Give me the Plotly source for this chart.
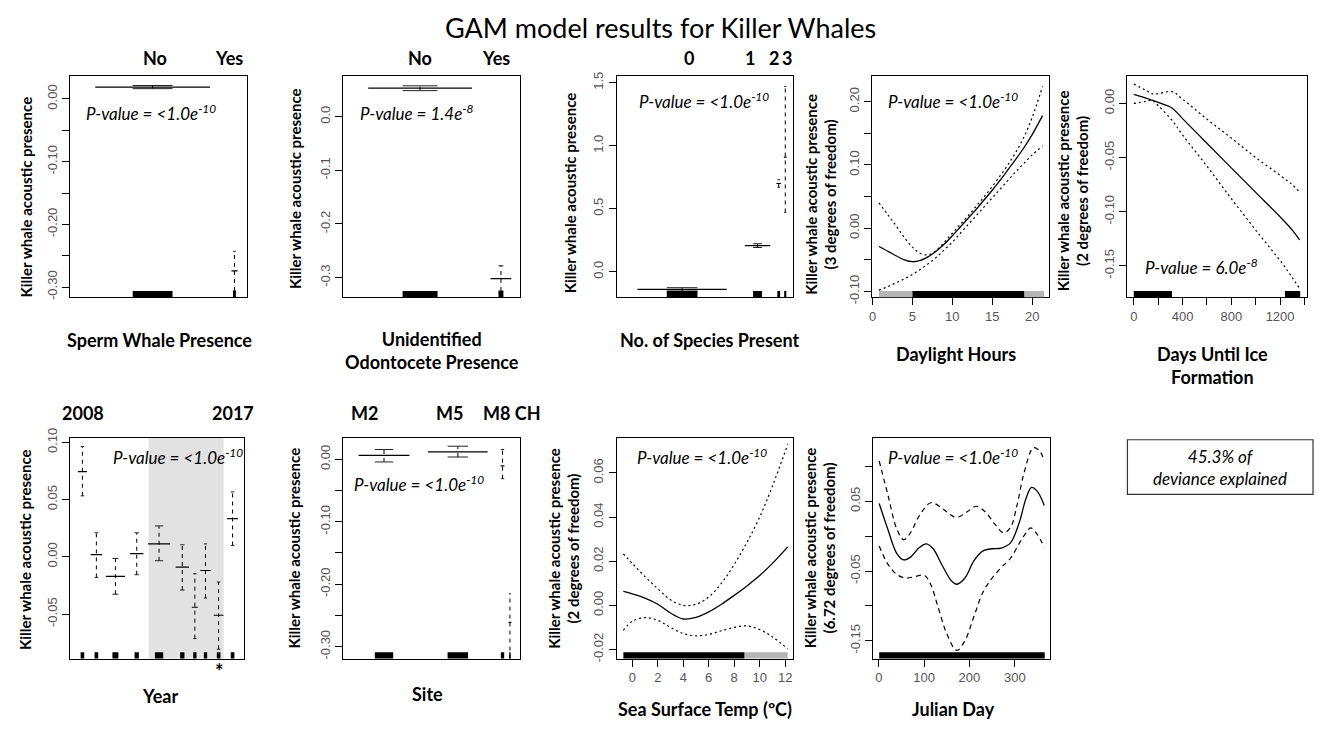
import plotly.graph_objects as go

W, H = 1319, 729

# ---------------- data ----------------
title_text = "GAM model results for Killer Whales"

# Panel 1: Sperm whale presence (factor term)
sperm_levels = ["No", "Yes"]
sperm_fit = [0.019, -0.274]
sperm_hi = [0.0215, -0.243]
sperm_lo = [0.0165, -0.306]
sperm_pos = [0.466, 0.927]
sperm_share = [0.323, 0.017]
sperm_rug = [0.112, 0.008]

# Panel 2: Unidentified odontocete presence
unid_levels = ["No", "Yes"]
unid_fit = [0.053, -0.302]
unid_hi = [0.0575, -0.278]
unid_lo = [0.0485, -0.325]
unid_pos = [0.435, 0.893]
unid_share = [0.294, 0.059]
unid_rug = [0.099, 0.014]

# Panel 3: Number of species present
spec_levels = ["0", "1", "2", "3"]
spec_fit = [-0.14, 0.207, 0.70, 0.91]
spec_hi = [-0.127, 0.222, 0.73, 1.47]
spec_lo = [-0.153, 0.192, 0.67, 0.47]
spec_pos = [0.371, 0.798, 0.918, 0.955]
spec_share = [0.253, 0.072, 0.013, 0.008]
spec_rug = [0.087, 0.025, 0.008, 0.006]

# Panel 4: Daylight hours smooth (3 df)
day_x = [0.8, 2, 3, 4, 5, 6, 7, 8, 9, 10, 11, 12, 13, 14, 15, 16, 17, 18, 19, 20, 21.3]
day_fit = [-0.029, -0.037, -0.044, -0.050, -0.053, -0.051, -0.045, -0.036, -0.025, -0.012, 0.002,
           0.016, 0.030, 0.045, 0.060, 0.076, 0.093, 0.110, 0.128, 0.148, 0.178]
day_hi = [0.040, 0.020, 0.003, -0.015, -0.030, -0.040, -0.042, -0.035, -0.022, -0.008, 0.006,
          0.020, 0.035, 0.050, 0.066, 0.083, 0.101, 0.121, 0.145, 0.175, 0.224]
day_lo = [-0.098, -0.092, -0.086, -0.080, -0.073, -0.065, -0.056, -0.046, -0.034, -0.022, -0.008,
          0.006, 0.020, 0.034, 0.048, 0.062, 0.076, 0.090, 0.103, 0.116, 0.130]
day_rug_dense = [(5.0, 19.0)]
day_rug_sparse = [(0.8, 5.0), (19.0, 21.5)]

# Panel 5: Days until ice formation (2 df)
ice_x = [0, 100, 150, 200, 313, 400, 600, 800, 1000, 1219, 1300, 1360]
ice_fit = [0.0084, 0.005, 0.003, 0.001, -0.0042, -0.014, -0.0368, -0.0595, -0.0822, -0.107, -0.117, -0.126]
ice_hi = [0.018, 0.012, 0.009, 0.009, 0.011, 0.004, -0.0145, -0.032, -0.050, -0.068, -0.075, -0.082]
ice_lo = [0.000, 0.002, 0.003, -0.002, -0.0155, -0.029, -0.058, -0.088, -0.117, -0.148, -0.161, -0.171]
ice_rug_dense = [(0, 313), (1240, 1365)]

# Panel 6: Year (factor)
year_levels = ["2008", "2009", "2010", "2011", "2012", "2013", "2014", "2015", "2016", "2017"]
year_fit = [0.0745, 0.002, -0.017, 0.0028, 0.0113, -0.009, -0.044, -0.0119, -0.051, 0.0334]
year_hi = [0.0963, 0.021, -0.0014, 0.021, 0.027, 0.0105, -0.0147, 0.0113, -0.022, 0.0567]
year_lo = [0.0533, -0.018, -0.0326, -0.0156, -0.0034, -0.029, -0.0714, -0.036, -0.0807, 0.0099]
year_pos = [0.072, 0.152, 0.261, 0.383, 0.511, 0.644, 0.716, 0.777, 0.852, 0.932]
year_share = [0.026, 0.033, 0.055, 0.038, 0.063, 0.038, 0.017, 0.030, 0.028, 0.031]
year_rug = [0.0104, 0.0104, 0.017, 0.0123, 0.0237, 0.0123, 0.0095, 0.0095, 0.0104, 0.0104]
year_shade = (0.451, 0.881)

# Panel 7: Site (factor)
site_levels = ["M2", "M5", "M8", "CH"]
site_fit = [0.0063, 0.012, -0.0105, -0.261]
site_hi = [0.0157, 0.021, 0.0157, -0.215]
site_lo = [-0.0042, 0.0037, -0.031, -0.319]
site_pos = [0.231, 0.649, 0.902, 0.944]
site_share = [0.144, 0.169, 0.011, 0.008]
site_rug = [0.052, 0.058, 0.0094, 0.004]

# Panel 8: Sea surface temperature (2 df)
sst_x = [-0.7, 0, 1, 2, 3, 4, 5, 6, 7, 8, 9, 10, 11, 12.2]
sst_fit = [0.0063, 0.0052, 0.0033, 0.0005, -0.0035, -0.0062, -0.0055, -0.0030, 0.0005, 0.0045,
           0.0088, 0.0135, 0.0190, 0.0265]
sst_hi = [0.0233, 0.019, 0.013, 0.0075, 0.0025, 0.0, 0.0005, 0.0038, 0.0100, 0.0185, 0.0285,
          0.0400, 0.0540, 0.0729]
sst_lo = [-0.0113, -0.0072, -0.0056, -0.0068, -0.0100, -0.0128, -0.0138, -0.0132, -0.0115,
          -0.0100, -0.0093, -0.0110, -0.0143, -0.0197]
sst_rug_dense = [(-0.7, 8.8)]
sst_rug_sparse = [(8.8, 12.2)]

# Panel 9: Julian day (6.72 df)
jul_x = [1, 20, 40, 55, 70, 90, 105, 120, 140, 160, 172, 190, 210, 230, 250, 270, 290, 310, 325, 337, 350, 365]
jul_fit = [0.047, 0.010, -0.025, -0.034, -0.030, -0.016, -0.011, -0.018, -0.042, -0.064, -0.069, -0.060,
           -0.035, -0.021, -0.018, -0.017, -0.010, 0.020, 0.055, 0.070, 0.064, 0.044]
jul_hi_x = [1, 20, 40, 55, 70, 90, 115, 140, 160, 172, 195, 215, 235, 255, 275, 290, 305, 320, 341, 355, 365]
jul_hi = [0.108, 0.060, 0.010, -0.005, 0.005, 0.030, 0.048, 0.040, 0.030, 0.027, 0.035, 0.043, 0.035,
          0.018, 0.005, 0.012, 0.045, 0.090, 0.127, 0.122, 0.108]
jul_lo_x = [1, 20, 40, 60, 80, 100, 115, 130, 150, 172, 190, 210, 230, 250, 270, 290, 310, 325, 335, 350, 365]
jul_lo = [-0.014, -0.040, -0.055, -0.060, -0.058, -0.056, -0.070, -0.100, -0.140, -0.164, -0.150, -0.115,
          -0.080, -0.060, -0.045, -0.032, -0.010, 0.005, 0.012, 0.002, -0.016]
jul_rug_dense = [(1, 366)]

deviance_text = "45.3% of<br>deviance explained"

# ---------------- layout helpers ----------------
TXT = "Lato, Open Sans, sans-serif"
TICKF = dict(family="Liberation Sans, Arial, sans-serif", size=13, color="#555")

boxes = {1: (67, 245, 68, 294), 2: (341, 518, 68, 294), 3: (615, 792, 68, 294),
         4: (871, 1048, 68, 294), 5: (1127, 1307, 68, 294),
         6: (67, 242, 438, 664), 7: (341, 518, 438, 664), 8: (615, 792, 438, 664),
         9: (872, 1049, 438, 664)}


def px(x):
    return x / W


def py(y):
    return 1 - y / H


def xr(i):
    return "x" if i == 1 else f"x{i}"


def yr(i):
    return "y" if i == 1 else f"y{i}"


fig = go.Figure()
shapes = []
annotations = []


def factor_panel(i, pos, share, rugw, fit, lo, hi):
    fx, fy, cx, cy, vx, vy = [], [], [], [], [], []
    for p, s, f in zip(pos, share, fit):
        fx += [p - s, p + s, None]
        fy += [f, f, None]
    for p, r, l, h in zip(pos, rugw, lo, hi):
        cx += [p - r, p + r, None, p - r, p + r, None]
        cy += [l, l, None, h, h, None]
        vx += [p, p, None]
        vy += [l, h, None]
    fig.add_trace(go.Scatter(x=vx, y=vy, mode="lines", xaxis=xr(i), yaxis=yr(i),
                             line=dict(color="black", width=1, dash="4px,4px"), hoverinfo="skip"))
    fig.add_trace(go.Scatter(x=cx, y=cy, mode="lines", xaxis=xr(i), yaxis=yr(i),
                             line=dict(color="#222", width=1), hoverinfo="skip"))
    fig.add_trace(go.Scatter(x=fx, y=fy, mode="lines", xaxis=xr(i), yaxis=yr(i),
                             line=dict(color="black", width=1.2), hoverinfo="skip"))
    for p, r in zip(pos, rugw):
        shapes.append(dict(type="rect", xref=xr(i), yref=yr(i) + " domain", x0=p - r, x1=p + r,
                           y0=0, y1=0.028, fillcolor="black", line=dict(width=0)))


def curve_panel(i, x, fit, xhi, hi, xlo, lo, dash, dense, sparse=()):
    fig.add_trace(go.Scatter(x=xhi, y=hi, mode="lines", xaxis=xr(i), yaxis=yr(i),
                             line=dict(color="black", width=1.2, dash=dash, shape="spline"),
                             hoverinfo="skip"))
    fig.add_trace(go.Scatter(x=xlo, y=lo, mode="lines", xaxis=xr(i), yaxis=yr(i),
                             line=dict(color="black", width=1.2, dash=dash, shape="spline"),
                             hoverinfo="skip"))
    fig.add_trace(go.Scatter(x=x, y=fit, mode="lines", xaxis=xr(i), yaxis=yr(i),
                             line=dict(color="black", width=1.3, shape="spline"), hoverinfo="skip"))
    for a, b in sparse:
        shapes.append(dict(type="rect", xref=xr(i), yref=yr(i) + " domain", x0=a, x1=b,
                           y0=0, y1=0.028, fillcolor="#b5b5b5", line=dict(width=0)))
    for a, b in dense:
        shapes.append(dict(type="rect", xref=xr(i), yref=yr(i) + " domain", x0=a, x1=b,
                           y0=0, y1=0.028, fillcolor="black", line=dict(width=0)))


# year shading (behind)
shapes.append(dict(type="rect", xref="x6", yref="y6 domain", x0=year_shade[0], x1=year_shade[1],
                   y0=0, y1=1, fillcolor="#e2e2e2", line=dict(width=0), layer="below"))

factor_panel(1, sperm_pos, sperm_share, sperm_rug, sperm_fit, sperm_lo, sperm_hi)
factor_panel(2, unid_pos, unid_share, unid_rug, unid_fit, unid_lo, unid_hi)
factor_panel(3, spec_pos, spec_share, spec_rug, spec_fit, spec_lo, spec_hi)
curve_panel(4, day_x, day_fit, day_x, day_hi, day_x, day_lo, "2px,3px", day_rug_dense, day_rug_sparse)
curve_panel(5, ice_x, ice_fit, ice_x, ice_hi, ice_x, ice_lo, "2px,3px", ice_rug_dense)
factor_panel(6, year_pos, year_share, year_rug, year_fit, year_lo, year_hi)
factor_panel(7, site_pos, site_share, site_rug, site_fit, site_lo, site_hi)
curve_panel(8, sst_x, sst_fit, sst_x, sst_hi, sst_x, sst_lo, "2px,3px", sst_rug_dense, sst_rug_sparse)
curve_panel(9, jul_x, jul_fit, jul_hi_x, jul_hi, jul_lo_x, jul_lo, "5px,4px", jul_rug_dense)

# ---------------- axes ----------------
yspec = {
    1: ([-0.316, 0.036], [0, -0.05, -0.1, -0.15, -0.2, -0.25, -0.3], ["0.00", "", "-0.10", "", "-0.20", "", "-0.30"]),
    2: ([-0.3364, 0.075], [0, -0.1, -0.2, -0.3], ["0.0", "-0.1", "-0.2", "-0.3"]),
    3: ([-0.202, 1.55], [0, 0.5, 1.0, 1.5], ["0.0", "0.5", "1.0", "1.5"]),
    4: ([-0.109, 0.240], [-0.1, -0.05, 0, 0.05, 0.1, 0.15, 0.2], ["-0.10", "", "0.00", "", "0.10", "", "0.20"]),
    5: ([-0.179, 0.025], [-0.15, -0.1, -0.05, 0], ["-0.15", "-0.10", "-0.05", "0.00"]),
    6: ([-0.0888, 0.104], [-0.05, 0, 0.05, 0.1], ["-0.05", "0.00", "0.05", "0.10"]),
    7: ([-0.319, 0.0345], [-0.3, -0.25, -0.2, -0.15, -0.1, -0.05, 0], ["-0.30", "", "-0.20", "", "-0.10", "", "0.00"]),
    8: ([-0.0241, 0.0759], [-0.02, 0, 0.02, 0.04, 0.06], ["-0.02", "0.00", "0.02", "0.04", "0.06"]),
    9: ([-0.1756, 0.1413], [-0.15, -0.1, -0.05, 0, 0.05, 0.1], ["-0.15", "", "-0.05", "", "0.05", ""]),
}
xspec = {
    4: ([-0.06, 22.06], [0, 5, 10, 15, 20], ["0", "5", "10", "15", "20"]),
    5: ([-52, 1421], [0, 200, 400, 600, 800, 1000, 1200, 1400], ["0", "", "400", "", "800", "", "1200", ""]),
    8: ([-1.23, 12.63], [0, 2, 4, 6, 8, 10, 12], ["0", "2", "4", "6", "8", "10", "12"]),
    9: ([-12.6, 376.7], [0, 100, 200, 300], ["0", "100", "200", "300"]),
}

lay = {}
for i, (l, r, t, b) in boxes.items():
    xname = "xaxis" if i == 1 else f"xaxis{i}"
    yname = "yaxis" if i == 1 else f"yaxis{i}"
    xd = dict(domain=[px(l), px(r)], anchor=yr(i), showline=True, mirror=True, linecolor="black",
              linewidth=1.2, showgrid=False, zeroline=False, fixedrange=True)
    if i in xspec:
        rng, tv, tt = xspec[i]
        xd.update(range=rng, tickvals=tv, ticktext=tt, ticks="outside", ticklen=7, tickcolor="black",
                  tickwidth=1, tickfont=TICKF)
    else:
        xd.update(range=[0, 1], ticks="", showticklabels=False)
    rng, tv, tt = yspec[i]
    yd = dict(domain=[py(b), py(t)], anchor=xr(i), range=rng, tickvals=tv, ticktext=tt,
              tickangle=-90, ticks="outside", ticklen=7, tickcolor="black", tickwidth=1,
              tickfont=TICKF, showline=True, mirror=True, linecolor="black", linewidth=1.2,
              showgrid=False, zeroline=False, fixedrange=True)
    lay[xname] = xd
    lay[yname] = yd


def ann(text, x, y, size, bold=False, italic=False, angle=0):
    t = text
    if bold:
        t = f"<b>{t}</b>"
    if italic:
        t = f"<i>{t}</i>"
    annotations.append(dict(text=t, x=px(x), y=py(y), xref="paper", yref="paper", showarrow=False,
                            xanchor="center", yanchor="middle", textangle=angle,
                            font=dict(family=TXT, size=size, color="black")))


ann(title_text, 659, 18, 27)

# level labels above panels
for txt, x in [(sperm_levels[0], 152), (sperm_levels[1], 227), (unid_levels[0], 418), (unid_levels[1], 494),
               (spec_levels[0], 688), (spec_levels[1], 749), (spec_levels[2], 773), (spec_levels[3], 786)]:
    ann(txt, x, 49, 18, bold=True)
for txt, x in [(year_levels[0], 80), (year_levels[-1], 231), (site_levels[0], 362), (site_levels[1], 448),
               (site_levels[2] + " " + site_levels[3], 510)]:
    ann(txt, x, 413, 18, bold=True)

pv10 = "P-value = &lt;1.0e<sup>-10</sup>"
for txt, x, y in [(pv10, 148, 105), ("P-value = 1.4e<sup>-8</sup>", 414, 105), (pv10, 703, 93),
                  (pv10, 952, 93), ("P-value = 6.0e<sup>-8</sup>", 1201, 263), (pv10, 175, 457),
                  (pv10, 417, 485), (pv10, 701, 457), (pv10, 952, 457)]:
    ann(txt, x, y, 17, italic=True)

# x-axis titles
for txt, x, y in [("Sperm Whale Presence", 157, 338), ("Unidentified<br>Odontocete Presence", 430, 349),
                  ("No. of Species Present", 708, 338), ("Daylight Hours", 955, 352),
                  ("Days Until Ice<br>Formation", 1212, 364), ("Year", 157, 702), ("Site", 425, 700),
                  ("Sea Surface Temp (ºC)", 704, 716), ("Julian Day", 953, 716)]:
    ann(txt, x, y, 18, bold=True)

# y-axis titles
kw = "Killer whale acoustic presence"
for txt, x, y in [(kw, 23, 191), (kw, 292, 183), (kw, 568, 187),
                  (kw + "<br>(3 degrees of freedom)", 819, 189),
                  (kw + "<br>(2 degrees of freedom)", 1072, 185),
                  (kw, 22, 552), (kw, 292, 551),
                  (kw + "<br>(2 degrees of freedom)", 562, 551),
                  (kw + "<br>(6.72 degrees of freedom)", 819, 551)]:
    ann(txt, x, y, 15, bold=True, angle=-90)

ann("*", 217, 677, 20, bold=True)

# deviance box
shapes.append(dict(type="rect", xref="paper", yref="paper", x0=px(1127), x1=px(1313), y0=py(496), y1=py(440),
                   line=dict(color="#333", width=1.2), fillcolor="rgba(0,0,0,0)"))
ann(deviance_text, 1220, 468, 17, italic=True)

fig.update_layout(width=W, height=H, margin=dict(l=0, r=0, t=0, b=0), autosize=False,
                  paper_bgcolor="white", plot_bgcolor="rgba(0,0,0,0)", showlegend=False,
                  shapes=shapes, annotations=annotations, **lay)

fig.write_html("out.html", config={"displayModeBar": False},
               post_script="document.body.style.margin='0px';document.body.style.overflow='hidden';")
